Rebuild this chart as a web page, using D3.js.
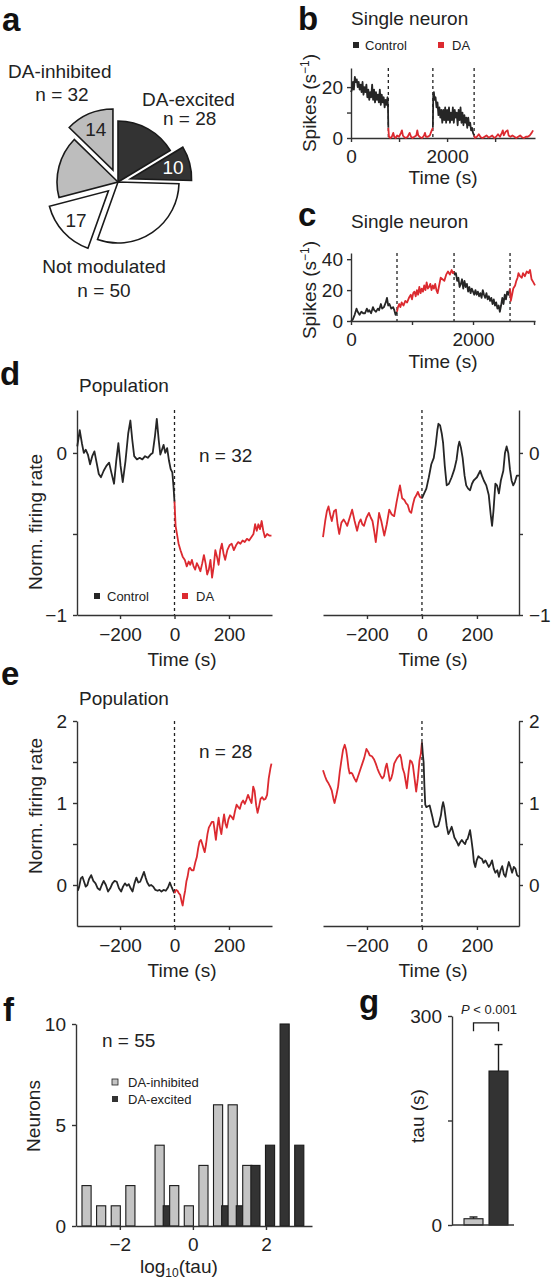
<!DOCTYPE html>
<html><head><meta charset="utf-8">
<script src="https://cdn.jsdelivr.net/npm/d3@7"></script>
<style>
body{margin:0;background:#fff}
svg{display:block;background:#fff}
</style></head><body>
<svg id="fig" width="553" height="1280"></svg>
<script>
// ================= DATA =================
// Panel a: pie (clockwise from 12 o'clock)
const pieGroups = ["DA-excited","DA-excited","Not modulated","Not modulated","DA-inhibited","DA-inhibited"];
const pieValues = [18, 10, 33, 17, 18, 14];
const pieExploded = [false, true, false, true, false, true];
const pieSliceLabels = ["", "10", "", "17", "", "14"];
const pieCategoryNames = ["DA-inhibited", "DA-excited", "Not modulated"];
const pieCategoryN = [32, 28, 50];

// Panel b: single neuron (time s, spikes/s)
const bControl1 = [[0,18],[20,19],[40,22],[60,19],[80,24],[100,22],[120,23],[140,20],[160,22],[180,19],[200,21],[220,18],[240,22],[260,17],[280,20],[300,18],[320,21],[340,16],[360,19],[380,15],[400,18],[420,16],[440,21],[460,15],[480,19],[500,14],[520,18],[540,15],[560,17],[580,14],[600,19],[620,13],[640,17],[660,14],[680,16],[700,12],[720,15],[740,13],[760,16],[770,12],[777,4]];
const bDA1 = [[777,4],[790,0.5],[820,0],[850,0.5],[880,2],[900,0.5],[930,0],[960,1],[1000,0.5],[1040,2],[1060,3],[1080,1],[1100,0.5],[1140,0],[1180,0.5],[1220,2],[1250,0.5],[1280,0],[1320,0.5],[1360,1],[1380,3],[1400,1],[1440,0.3],[1480,0],[1520,1],[1540,2],[1560,0.5],[1600,0.5],[1640,1],[1680,3],[1704,4]];
const bControl2 = [[1704,4],[1712,17],[1725,18],[1740,15],[1760,16],[1780,12],[1800,14],[1820,9],[1840,12],[1860,8],[1880,11],[1900,6],[1920,11],[1940,7],[1960,12],[1980,6],[2000,11],[2020,7],[2040,12],[2060,6],[2080,10],[2100,7],[2120,12],[2140,6],[2160,11],[2180,8],[2200,10],[2220,5],[2240,11],[2260,7],[2280,12],[2300,6],[2320,10],[2340,5],[2360,9],[2380,6],[2400,8],[2420,4],[2440,8],[2460,5],[2480,6],[2500,3],[2520,4],[2540,2],[2563,1]];
const bDA2 = [[2563,1],[2580,0],[2620,0.5],[2660,1.5],[2700,0.3],[2740,0],[2780,0.5],[2820,1],[2860,0.2],[2900,0.5],[2940,1],[2980,0],[3020,0.5],[3060,1.5],[3100,0.5],[3140,2],[3160,3],[3180,1],[3220,2.5],[3260,3],[3280,1],[3320,0.5],[3360,1],[3400,0.5],[3440,0],[3480,0.5],[3520,1],[3560,0.3],[3600,0],[3640,0.5],[3680,0.5],[3720,1],[3760,2],[3790,3]];
const bSwitchTimes = [777, 1704, 2563];
const bXTicks = [0,1000,2000,3000], bXLabels = [0,2000];
const bYTicks = [0,10,20], bYLabels = [0,20];

// Panel c: single neuron
const cControl1 = [[0,0],[30,1],[60,4],[90,8],[110,6],[140,4],[170,6],[200,5],[230,5],[260,8],[280,6],[300,7],[330,5],[360,9],[380,7],[410,6],[440,8],[460,7],[490,11],[510,8],[540,9],[570,12],[590,15],[610,10],[630,11],[660,8],[690,9],[710,7],[730,4],[754,6]];
const cDA1 = [[754,6],[770,9],[790,11],[810,9],[830,12],[860,10],[890,13],[920,12],[950,15],[980,17],[1000,14],[1020,18],[1040,19],[1060,16],[1080,20],[1100,17],[1120,22],[1140,18],[1160,21],[1180,19],[1200,23],[1220,20],[1240,25],[1260,21],[1280,22],[1300,24],[1320,20],[1340,23],[1360,21],[1380,24],[1400,20],[1420,18],[1440,22],[1470,28],[1500,27],[1530,26],[1560,30],[1590,32],[1620,30],[1650,33],[1670,31],[1689,32]];
const cControl2 = [[1689,32],[1700,30],[1720,31],[1740,26],[1760,28],[1780,22],[1800,24],[1820,27],[1840,21],[1860,26],[1880,22],[1900,24],[1920,19],[1940,22],[1960,18],[1980,21],[2000,19],[2020,17],[2040,20],[2060,17],[2080,19],[2100,16],[2120,18],[2140,15],[2160,20],[2180,17],[2200,15],[2220,18],[2240,14],[2260,16],[2280,13],[2300,15],[2320,11],[2340,14],[2360,10],[2380,12],[2400,8],[2420,10],[2440,6],[2460,10],[2480,15],[2500,11],[2520,17],[2540,14],[2560,19],[2580,17],[2607,21]];
const cDA2 = [[2607,21],[2620,13],[2640,17],[2660,21],[2690,23],[2710,26],[2730,28],[2745,31],[2770,29],[2800,28],[2820,31],[2850,29],[2880,32],[2910,31],[2935,33],[2960,27],[2990,25],[3016,23]];
const cSwitchTimes = [754, 1689, 2607];
const cXTicks = [0,1000,2000,3000], cXLabels = [0,2000];
const cYTicks = [0,20,40], cYLabels = [0,20,40];

// Panel d: DA-inhibited population (time s, normalized rate)
const dLeftControl = [[-357,0.04],[-348,0.14],[-340,0.06],[-333,0.0],[-326,0.02],[-318,-0.01],[-310,-0.07],[-302,-0.02],[-294,0.01],[-286,-0.06],[-278,-0.13],[-270,-0.15],[-260,-0.11],[-250,-0.08],[-240,-0.06],[-232,-0.12],[-222,-0.19],[-214,-0.05],[-206,0.06],[-198,-0.08],[-190,-0.18],[-180,-0.05],[-170,0.12],[-162,0.2],[-155,0.08],[-148,-0.02],[-138,-0.04],[-128,-0.03],[-118,-0.04],[-108,-0.02],[-98,-0.03],[-88,-0.01],[-80,0.0],[-72,0.1],[-65,0.21],[-58,0.08],[-52,-0.01],[-46,0.02],[-40,0.05],[-34,0.0],[-27,0.03],[-20,-0.05],[-14,-0.1],[-8,-0.12],[-4,-0.2],[0,-0.3]];
const dLeftDA = [[0,-0.3],[4,-0.45],[9,-0.5],[15,-0.56],[22,-0.6],[30,-0.64],[38,-0.66],[45,-0.7],[52,-0.67],[58,-0.69],[64,-0.66],[70,-0.7],[76,-0.72],[82,-0.68],[88,-0.7],[95,-0.73],[102,-0.68],[108,-0.63],[114,-0.68],[120,-0.75],[126,-0.72],[132,-0.66],[138,-0.77],[144,-0.7],[150,-0.6],[156,-0.64],[162,-0.69],[168,-0.6],[174,-0.56],[180,-0.62],[186,-0.66],[194,-0.6],[202,-0.57],[210,-0.56],[218,-0.6],[226,-0.57],[234,-0.55],[242,-0.56],[250,-0.54],[258,-0.55],[266,-0.53],[274,-0.54],[282,-0.52],[290,-0.5],[296,-0.44],[302,-0.48],[308,-0.44],[314,-0.47],[320,-0.42],[326,-0.48],[332,-0.52],[340,-0.5],[348,-0.51],[356,-0.51]];
const dRightDA = [[-360,-0.52],[-352,-0.42],[-346,-0.36],[-340,-0.33],[-334,-0.38],[-328,-0.42],[-320,-0.36],[-313,-0.35],[-307,-0.44],[-301,-0.5],[-293,-0.43],[-285,-0.41],[-278,-0.43],[-272,-0.45],[-263,-0.4],[-254,-0.35],[-245,-0.42],[-236,-0.48],[-229,-0.43],[-223,-0.41],[-217,-0.44],[-211,-0.45],[-202,-0.4],[-193,-0.37],[-186,-0.4],[-180,-0.42],[-174,-0.48],[-168,-0.55],[-162,-0.46],[-156,-0.37],[-148,-0.42],[-137,-0.51],[-128,-0.44],[-119,-0.35],[-110,-0.38],[-101,-0.39],[-92,-0.3],[-85,-0.24],[-80,-0.2],[-72,-0.28],[-64,-0.29],[-58,-0.31],[-52,-0.32],[-45,-0.36],[-39,-0.37],[-33,-0.32],[-27,-0.28],[-20,-0.26],[-15,-0.24],[-8,-0.27],[0,-0.28]];
const dRightControl = [[0,-0.28],[8,-0.25],[16,-0.22],[25,-0.15],[34,-0.07],[43,-0.03],[50,0.05],[56,0.14],[60,0.18],[66,0.17],[72,0.12],[77,0.06],[83,-0.08],[90,-0.2],[98,-0.19],[108,-0.15],[118,-0.1],[126,-0.04],[132,0.04],[136,0.07],[142,0.03],[148,-0.03],[155,-0.14],[161,-0.2],[168,-0.22],[175,-0.23],[182,-0.19],[188,-0.17],[194,-0.16],[200,-0.15],[206,-0.13],[212,-0.11],[218,-0.14],[225,-0.17],[234,-0.2],[243,-0.26],[250,-0.38],[255,-0.45],[260,-0.36],[267,-0.19],[273,-0.2],[280,-0.25],[287,-0.17],[296,-0.11],[302,0.0],[308,0.04],[314,0.0],[320,-0.1],[326,-0.17],[332,-0.2],[338,-0.18],[345,-0.14],[353,-0.14]];
const dN = 32;
const dYTicks = [-1,-0.5,0], dYLabels = [-1,0];

// Panel e: DA-excited population
const eLeftControl = [[-355,-0.07],[-350,-0.02],[-344,0.08],[-338,0.1],[-332,0.04],[-326,-0.02],[-320,0.0],[-314,0.07],[-306,0.12],[-298,0.05],[-290,0.02],[-282,-0.04],[-274,-0.06],[-267,0.0],[-260,0.05],[-252,0.0],[-244,-0.08],[-236,-0.04],[-228,0.02],[-220,0.05],[-212,0.04],[-204,-0.04],[-196,-0.08],[-189,-0.02],[-182,0.02],[-175,-0.01],[-168,0.01],[-161,-0.04],[-154,-0.08],[-147,0.02],[-140,0.09],[-133,0.03],[-126,0.04],[-119,0.1],[-112,0.16],[-106,0.09],[-100,0.03],[-93,-0.01],[-86,0.0],[-78,-0.02],[-70,-0.06],[-62,-0.07],[-55,-0.06],[-48,-0.08],[-40,-0.06],[-32,-0.07],[-24,-0.03],[-17,0.03],[-10,-0.03],[-5,-0.07],[0,-0.1]];
const eLeftDA = [[0,-0.1],[6,-0.06],[11,-0.07],[16,-0.1],[21,-0.12],[26,-0.2],[30,-0.25],[35,-0.14],[39,-0.07],[44,0.05],[48,0.1],[53,0.2],[57,0.21],[63,0.18],[70,0.18],[76,0.27],[82,0.34],[87,0.45],[92,0.53],[97,0.55],[102,0.5],[107,0.44],[111,0.4],[116,0.5],[121,0.62],[126,0.7],[131,0.73],[137,0.77],[143,0.77],[148,0.65],[152,0.55],[157,0.7],[162,0.82],[167,0.7],[172,0.62],[177,0.75],[182,0.86],[187,0.75],[192,0.7],[198,0.8],[204,0.85],[210,0.83],[216,0.8],[222,0.9],[228,0.98],[234,0.95],[240,0.93],[246,1.0],[252,1.03],[258,0.99],[264,1.04],[270,1.1],[276,1.05],[283,1.0],[289,1.2],[294,1.15],[300,0.97],[305,0.88],[310,0.95],[316,1.05],[322,1.07],[328,1.04],[334,1.05],[340,1.1],[346,1.3],[352,1.42],[356,1.48]];
const eRightDA = [[-360,1.4],[-352,1.32],[-346,1.27],[-340,1.24],[-334,1.2],[-328,1.15],[-322,1.05],[-318,1.0],[-311,1.1],[-305,1.2],[-299,1.38],[-293,1.52],[-287,1.65],[-281,1.71],[-276,1.65],[-272,1.56],[-267,1.42],[-263,1.36],[-258,1.37],[-254,1.36],[-246,1.3],[-239,1.26],[-233,1.32],[-229,1.36],[-223,1.42],[-217,1.48],[-210,1.55],[-202,1.66],[-195,1.62],[-190,1.58],[-182,1.57],[-174,1.53],[-168,1.48],[-162,1.42],[-156,1.37],[-150,1.33],[-144,1.3],[-138,1.33],[-132,1.44],[-128,1.48],[-122,1.37],[-117,1.27],[-112,1.3],[-107,1.36],[-101,1.48],[-95,1.52],[-90,1.55],[-85,1.57],[-80,1.59],[-76,1.55],[-70,1.42],[-64,1.36],[-55,1.18],[-48,1.4],[-43,1.52],[-37,1.5],[-33,1.46],[-27,1.3],[-21,1.14],[-15,1.3],[-9,1.52],[-4,1.6],[0,1.74]];
const eRightControl = [[0,1.74],[3,1.6],[6,1.5],[9,1.2],[12,0.98],[16,0.95],[22,0.96],[28,0.97],[33,0.9],[38,0.83],[43,0.75],[47,0.71],[53,0.71],[59,0.72],[64,0.78],[69,0.85],[73,0.95],[77,1.01],[81,0.95],[85,0.85],[90,0.72],[96,0.62],[102,0.66],[108,0.71],[113,0.65],[118,0.58],[123,0.55],[128,0.52],[133,0.48],[139,0.52],[145,0.55],[151,0.52],[157,0.5],[162,0.55],[166,0.56],[171,0.62],[175,0.67],[180,0.55],[185,0.42],[189,0.28],[194,0.22],[199,0.3],[205,0.35],[212,0.33],[218,0.32],[224,0.27],[231,0.3],[237,0.26],[243,0.22],[249,0.25],[255,0.3],[261,0.2],[267,0.15],[274,0.18],[280,0.1],[286,0.18],[292,0.23],[298,0.13],[304,0.1],[310,0.2],[316,0.28],[322,0.22],[328,0.15],[334,0.22],[340,0.2],[346,0.12],[353,0.1]];
const eN = 28;
const eYTicks = [0,0.5,1,1.5,2], eYLabels = [0,1,2];

const popXTicks = [-200,0,200];

// Panel f: histogram of log10(tau)
const tauBins = [-2.8,-2.4,-2.0,-1.6,-1.2,-0.8,-0.4,0,0.4,0.8,1.2,1.6,2.0,2.4,2.8];
const inhibitedCounts = [2,1,1,2,0,4,2,1,3,6,6,3,0,0,0];
const excitedCounts   = [0,0,0,0,0,1,0,0,0,1,1,3,4,10,4];
const fN = 55;
const fXTicks = [-2,0,2], fYTicks = [0,5,10];

// Panel g: mean tau
const gGroups = ["DA-inhibited","DA-excited"];
const gMeans = [9, 221];
const gErr = [2.5, 38];
const gYTicks = [0,150,300], gYLabels = [0,300];

// ================= DRAWING =================
const FONT = '"Liberation Sans", Arial, Helvetica, sans-serif';
const BLACK = "#262626", RED = "#dc2a30", AX = "#333", GREY = "#c4c4c4", DARK = "#333";
const svg = d3.select("#fig").attr("font-family", FONT);

function styleAxis(g){
  g.attr("font-family", FONT).attr("font-size", 19);
  g.selectAll(".domain").attr("stroke", AX).attr("stroke-width", 1.4);
  g.selectAll(".tick line").attr("stroke", AX).attr("stroke-width", 1.4);
  g.selectAll(".tick text").attr("fill", "#222");
}
function fmtSel(labels){ const f = d3.format("d"); return d => labels.includes(d) ? f(d) : ""; }
function text(x, y, s, o = {}){
  return svg.append("text").attr("x", x).attr("y", y).text(s)
    .attr("font-size", o.size || 19).attr("fill", o.fill || "#222")
    .attr("font-weight", o.weight || "normal")
    .attr("text-anchor", o.anchor || "start");
}
function vtext(x, y, s, size = 19){
  return svg.append("text").attr("transform", `translate(${x},${y}) rotate(-90)`)
    .attr("text-anchor", "middle").attr("font-size", size).attr("fill", "#222").text(s);
}
function trace(xs, ys, data, color, w = 1.8){
  svg.append("path").datum(data).attr("fill", "none").attr("stroke", color)
    .attr("stroke-width", w).attr("stroke-linejoin", "round")
    .attr("d", d3.line().x(d => xs(d[0])).y(d => ys(d[1])));
}
function dashed(x, y0, y1){
  svg.append("line").attr("x1", x).attr("x2", x).attr("y1", y0).attr("y2", y1)
    .attr("stroke", "#222").attr("stroke-width", 1.3).attr("stroke-dasharray", "3,3");
}

// Panel letters
text(2, 31, "a", {size: 33, weight: "bold", fill: "#111"});
text(298, 30, "b", {size: 33, weight: "bold", fill: "#111"});
text(298, 226, "c", {size: 33, weight: "bold", fill: "#111"});
text(0, 385, "d", {size: 33, weight: "bold", fill: "#111"});
text(1, 685, "e", {size: 33, weight: "bold", fill: "#111"});
text(3, 1021, "f", {size: 33, weight: "bold", fill: "#111"});
text(359, 1013, "g", {size: 33, weight: "bold", fill: "#111"});

// ---- Panel a: pie
(function(){
  const cx = 118, cy = 182, R = 61, EXP = 13;
  const color = {"DA-excited": DARK, "DA-inhibited": "#bdbdbd", "Not modulated": "#ffffff"};
  const sl = pieValues.map((v, i) => ({v, group: pieGroups[i], exploded: pieExploded[i], label: pieSliceLabels[i]}));
  const arcs = d3.pie().sort(null).value(d => d.v)(sl);
  const arc = d3.arc().innerRadius(0).outerRadius(R);
  const arcLab = d3.arc().innerRadius(44).outerRadius(44);
  const g = svg.append("g").attr("transform", `translate(${cx},${cy})`);
  arcs.forEach(a => {
    const mid = (a.startAngle + a.endAngle) / 2;
    const off = a.data.exploded ? EXP : 0;
    const s = g.append("g").attr("transform", `translate(${Math.sin(mid) * off},${-Math.cos(mid) * off})`);
    s.append("path").attr("d", arc(a)).attr("fill", color[a.data.group])
      .attr("stroke", "#1a1a1a").attr("stroke-width", 1.6);
    if (a.data.label){
      const c = arcLab.centroid(a);
      s.append("text").attr("x", c[0]).attr("y", c[1]).attr("dy", "0.35em")
        .attr("text-anchor", "middle").attr("font-size", 19)
        .attr("fill", a.data.group === "DA-excited" ? "#fff" : "#222").text(a.data.label);
    }
  });
  text(8, 78, pieCategoryNames[0]);
  text(62, 101, "n = " + pieCategoryN[0], {anchor: "middle"});
  text(142, 106, pieCategoryNames[1]);
  text(163, 125, "n = " + pieCategoryN[1]);
  text(104, 273, pieCategoryNames[2], {anchor: "middle"});
  text(104, 297, "n = " + pieCategoryN[2], {anchor: "middle"});
})();

// ---- Panel b
(function(){
  const x = d3.scaleLinear().domain([0, 3830]).range([351, 535]);
  const y = d3.scaleLinear().domain([0, 27.5]).range([138, 68]);
  svg.append("g").attr("transform", "translate(0,138)")
    .call(d3.axisBottom(x).tickValues(bXTicks).tickFormat(fmtSel(bXLabels)).tickSize(4).tickPadding(8).tickSizeOuter(0)).call(styleAxis);
  svg.append("g").attr("transform", "translate(351,0)")
    .call(d3.axisLeft(y).tickValues(bYTicks).tickFormat(fmtSel(bYLabels)).tickSize(4).tickPadding(4).tickSizeOuter(0)).call(styleAxis);
  bSwitchTimes.forEach(t => dashed(x(t), y(27.5), y(0)));
  trace(x, y, bControl1, BLACK); trace(x, y, bControl2, BLACK);
  trace(x, y, bDA1, RED); trace(x, y, bDA2, RED);
  text(351, 25, "Single neuron");
  svg.append("rect").attr("x", 353).attr("y", 42).attr("width", 6).attr("height", 6).attr("fill", BLACK);
  text(365, 50, "Control", {size: 13});
  svg.append("rect").attr("x", 438).attr("y", 42).attr("width", 6).attr("height", 6).attr("fill", RED);
  text(452, 50, "DA", {size: 13});
  text(443, 184, "Time (s)", {anchor: "middle"});
  const t = vtext(316, 103, "Spikes (s");
  t.append("tspan").attr("dy", -7).attr("font-size", 12).text("−1");
  t.append("tspan").attr("dy", 7).text(")");
})();

// ---- Panel c
(function(){
  const x = d3.scaleLinear().domain([0, 3016]).range([351, 535]);
  const y = d3.scaleLinear().domain([0, 44]).range([321, 253]);
  svg.append("g").attr("transform", "translate(0,321)")
    .call(d3.axisBottom(x).tickValues(cXTicks).tickFormat(fmtSel(cXLabels)).tickSize(4).tickPadding(8).tickSizeOuter(0)).call(styleAxis);
  svg.append("g").attr("transform", "translate(351,0)")
    .call(d3.axisLeft(y).tickValues(cYTicks).tickFormat(fmtSel(cYLabels)).tickSize(4).tickPadding(4).tickSizeOuter(0)).call(styleAxis);
  cSwitchTimes.forEach(t => dashed(x(t), y(44), y(0)));
  trace(x, y, cControl1, BLACK); trace(x, y, cControl2, BLACK);
  trace(x, y, cDA1, RED); trace(x, y, cDA2, RED);
  text(351, 228, "Single neuron");
  text(443, 368, "Time (s)", {anchor: "middle"});
  const t = vtext(316, 290, "Spikes (s");
  t.append("tspan").attr("dy", -7).attr("font-size", 12).text("−1");
  t.append("tspan").attr("dy", 7).text(")");
})();

// ---- Population panels (d, e)
function popPanel(cfg){
  const xl = d3.scaleLinear().domain([-358, 358]).range([77, 272]);
  const xr = d3.scaleLinear().domain([-360, 353]).range([323, 519]);
  const y = d3.scaleLinear().domain(cfg.ydom).range([cfg.y0, cfg.y1]);
  const fmt = fmtSel(cfg.yLabels);
  svg.append("g").attr("transform", `translate(0,${cfg.y0})`)
    .call(d3.axisBottom(xl).tickValues(popXTicks).tickSize(4).tickPadding(9).tickSizeOuter(0)).call(styleAxis);
  svg.append("g").attr("transform", `translate(0,${cfg.y0})`)
    .call(d3.axisBottom(xr).tickValues(popXTicks).tickSize(4).tickPadding(9).tickSizeOuter(0)).call(styleAxis);
  svg.append("g").attr("transform", "translate(77,0)")
    .call(d3.axisLeft(y).tickValues(cfg.yTicks).tickFormat(fmt).tickSize(4).tickPadding(6).tickSizeOuter(0)).call(styleAxis);
  svg.append("g").attr("transform", "translate(519,0)")
    .call(d3.axisRight(y).tickValues(cfg.yTicks).tickFormat(fmt).tickSize(4).tickPadding(6).tickSizeOuter(0)).call(styleAxis);
  dashed(xl(0), cfg.y1, cfg.y0);
  dashed(xr(0), cfg.y1, cfg.y0);
  trace(xl, y, cfg.leftControl, BLACK);
  trace(xl, y, cfg.leftDA, RED);
  trace(xr, y, cfg.rightDA, RED);
  trace(xr, y, cfg.rightControl, BLACK);
  text(79, cfg.titleY, "Population");
  text(199, cfg.nY, "n = " + cfg.n);
  text(182, cfg.y0 + 51, "Time (s)", {anchor: "middle"});
  text(433, cfg.y0 + 51, "Time (s)", {anchor: "middle"});
  vtext(42, cfg.labY, "Norm. firing rate");
}
popPanel({ydom: [-1, 0.265], y0: 615, y1: 410, yTicks: dYTicks, yLabels: dYLabels,
  leftControl: dLeftControl, leftDA: dLeftDA, rightDA: dRightDA, rightControl: dRightControl,
  titleY: 392, nY: 462, n: dN, labY: 522});
popPanel({ydom: [-0.5, 2], y0: 926, y1: 721, yTicks: eYTicks, yLabels: eYLabels,
  leftControl: eLeftControl, leftDA: eLeftDA, rightDA: eRightDA, rightControl: eRightControl,
  titleY: 705, nY: 758, n: eN, labY: 806});
// legend in d
svg.append("rect").attr("x", 94).attr("y", 593).attr("width", 6).attr("height", 6).attr("fill", BLACK);
text(107, 601, "Control", {size: 13});
svg.append("rect").attr("x", 182).attr("y", 593).attr("width", 6).attr("height", 6).attr("fill", RED);
text(196, 601, "DA", {size: 13});

// ---- Panel f
(function(){
  const x = d3.scaleLinear().domain([-3.2, 3.26]).range([76, 312]);
  const y = d3.scaleLinear().domain([0, 10]).range([1226, 1024]);
  const bw = x(0.25) - x(0);
  const g = svg.append("g");
  tauBins.forEach((b, i) => {
    if (inhibitedCounts[i] > 0)
      g.append("rect").attr("x", x(b) - bw + 0.5).attr("y", y(inhibitedCounts[i]))
        .attr("width", bw).attr("height", y(0) - y(inhibitedCounts[i]))
        .attr("fill", GREY).attr("stroke", "#1a1a1a").attr("stroke-width", 1.1);
    if (excitedCounts[i] > 0)
      g.append("rect").attr("x", x(b) - 0.5).attr("y", y(excitedCounts[i]))
        .attr("width", bw).attr("height", y(0) - y(excitedCounts[i]))
        .attr("fill", DARK).attr("stroke", "#1a1a1a").attr("stroke-width", 1.1);
  });
  svg.append("g").attr("transform", "translate(0,1226)")
    .call(d3.axisBottom(x).tickValues(fXTicks).tickFormat(d3.format("d")).tickSize(4).tickPadding(8).tickSizeOuter(0)).call(styleAxis);
  svg.append("g").attr("transform", "translate(76,0)")
    .call(d3.axisLeft(y).tickValues(fYTicks).tickFormat(d3.format("d")).tickSize(4).tickPadding(6).tickSizeOuter(0)).call(styleAxis);
  text(102, 1047, "n = " + fN);
  svg.append("rect").attr("x", 112).attr("y", 1079).attr("width", 6).attr("height", 6).attr("fill", GREY).attr("stroke", "#222").attr("stroke-width", 0.8);
  text(128, 1087, "DA-inhibited", {size: 13});
  svg.append("rect").attr("x", 112).attr("y", 1096).attr("width", 6).attr("height", 6).attr("fill", DARK);
  text(128, 1104, "DA-excited", {size: 13});
  vtext(40, 1116, "Neurons");
  const t = text(140, 1273, "log");
  t.append("tspan").attr("dy", 4).attr("font-size", 12).text("10");
  t.append("tspan").attr("dy", -4).text("(tau)");
})();

// ---- Panel g
(function(){
  const x = d3.scaleBand().domain(gGroups).range([464, 508]).paddingInner(0.24).paddingOuter(0);
  const y = d3.scaleLinear().domain([0, 300]).range([1225, 1016]);
  const colors = [GREY, DARK];
  gGroups.forEach((gname, i) => {
    const cxm = x(gname) + x.bandwidth() / 2;
    svg.append("line").attr("x1", cxm).attr("x2", cxm).attr("y1", y(gMeans[i])).attr("y2", y(gMeans[i] + gErr[i]))
      .attr("stroke", "#1a1a1a").attr("stroke-width", 1.4);
    svg.append("line").attr("x1", cxm - 4).attr("x2", cxm + 4).attr("y1", y(gMeans[i] + gErr[i])).attr("y2", y(gMeans[i] + gErr[i]))
      .attr("stroke", "#1a1a1a").attr("stroke-width", 1.4);
    svg.append("rect").attr("x", x(gname)).attr("y", y(gMeans[i])).attr("width", x.bandwidth())
      .attr("height", y(0) - y(gMeans[i])).attr("fill", colors[i]).attr("stroke", "#1a1a1a").attr("stroke-width", 1.1);
  });
  svg.append("g").attr("transform", "translate(0,1225)")
    .call(d3.axisBottom(x).tickSize(0).tickFormat("").tickSizeOuter(0))
    .call(g => g.select(".domain").attr("d", "M452,0H514")).call(styleAxis);
  svg.append("g").attr("transform", "translate(452,0)")
    .call(d3.axisLeft(y).tickValues(gYTicks).tickFormat(fmtSel(gYLabels)).tickSize(4).tickPadding(6).tickSizeOuter(0)).call(styleAxis);
  const b0 = x(gGroups[0]) + x.bandwidth() / 2, b1 = x(gGroups[1]) + x.bandwidth() / 2;
  svg.append("path").attr("d", `M${b0},${y(278)}V${y(290)}H${b1}V${y(278)}`)
    .attr("fill", "none").attr("stroke", "#1a1a1a").attr("stroke-width", 1.3);
  const p = text(489, 1014, "", {size: 13, anchor: "middle"});
  p.append("tspan").attr("font-style", "italic").text("P");
  p.append("tspan").text(" < 0.001");
  vtext(424, 1116, "tau (s)");
})();
</script>
</body></html>
